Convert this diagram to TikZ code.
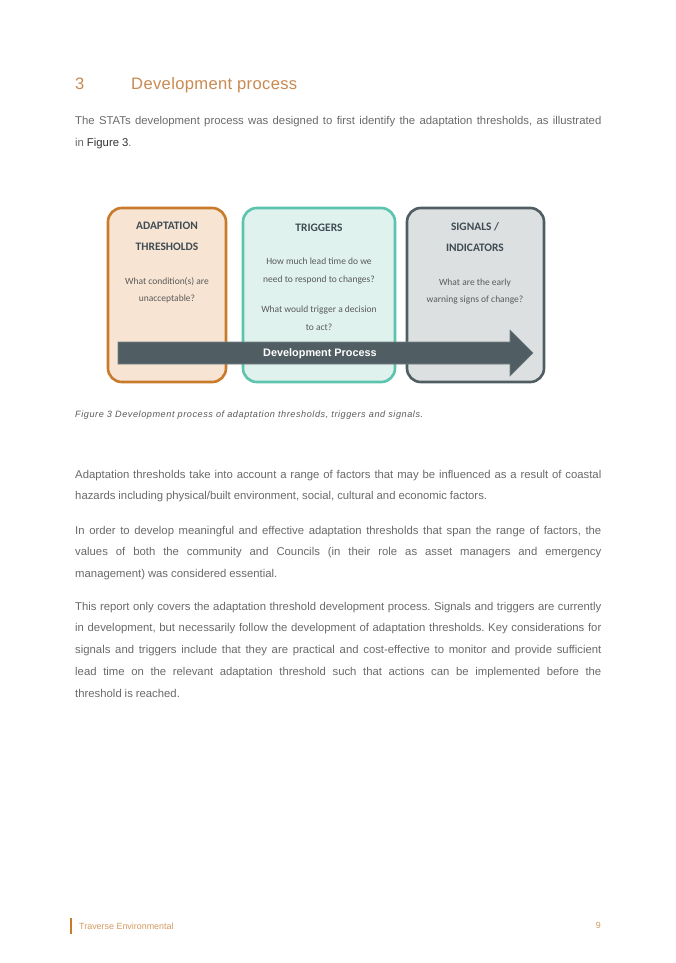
\documentclass[tikz,border=0pt]{standalone}
\usepackage{fontspec}
\setmainfont{Liberation Sans}
\newfontfamily\boxfont{Carlito}
\definecolor{headorange}{HTML}{C98A52}
\definecolor{bodygray}{HTML}{6A6A6A}
\definecolor{darktext}{HTML}{333333}
\definecolor{capgray}{HTML}{5A5A5A}
\definecolor{footorange}{HTML}{D49A62}
\definecolor{orangeline}{HTML}{C97B2C}
\definecolor{orangefill}{HTML}{F7E4D3}
\definecolor{tealline}{HTML}{5CC4AE}
\definecolor{tealfill}{HTML}{DFF2ED}
\definecolor{slateline}{HTML}{505E64}
\definecolor{slatefill}{HTML}{DDE0E1}
\definecolor{arrowfill}{HTML}{505E64}
\definecolor{boxtitle}{HTML}{3F4C53}
\definecolor{boxbody}{HTML}{5A5A5A}
\newcommand\parasetup{\hyphenpenalty=10000\frenchspacing\fontsize{9.9}{19.2}\selectfont
  \spaceskip=0.26em plus 0.6em minus 0.1em\relax}
\tikzset{
  panel/.style={line width=2.3pt, rounded corners=12pt},
  ttl/.style={anchor=base, inner sep=0pt, text=boxtitle, font=\boxfont\bfseries\fontsize{10}{12}\selectfont},
  bdy/.style={anchor=base, inner sep=0pt, text=boxbody, font=\boxfont\fontsize{8.3}{10}\selectfont},
  para/.style={anchor=base west, inner sep=0pt, text=bodygray},
}
\begin{document}
\begin{tikzpicture}[x=0.8743pt,y=-0.8743pt]
\useasboundingbox[fill=white] (0,0) rectangle (675,963);

% heading
\node[anchor=base west, inner sep=0pt, text=headorange, font=\fontsize{14.5}{17}\selectfont\addfontfeatures{LetterSpace=2}] (hnum) at (75,90) {3};
\node[anchor=base west, inner sep=0pt, text=headorange, font=\fontsize{14.5}{17}\selectfont\addfontfeatures{LetterSpace=2}] (htitle) at (131,90) {Development process};

% paragraph 1
\node[para] (p1) at (75,125) {\parbox[t]{460pt}{\parasetup
The STATs development process was designed to first identify the adaptation thresholds, as illustrated\linebreak in {\color{darktext}Figure 3}.}};

% figure panels
\draw[panel, draw=orangeline, fill=orangefill] (108,208) rectangle (226,382);
\draw[panel, draw=tealline, fill=tealfill] (243,208) rectangle (395,382);
\draw[panel, draw=slateline, fill=slatefill] (407,208) rectangle (544,382);

% panel texts
\node[ttl] (a1) at (167,230) {ADAPTATION};
\node[ttl] (a2) at (167,251) {THRESHOLDS};
\node[bdy] (a3) at (167,284) {What condition(s) are};
\node[bdy] (a4) at (167,301) {unacceptable?};

\node[ttl] (t1) at (319,232) {TRIGGERS};
\node[bdy] (t2) at (319,265) {How much lead time do we};
\node[bdy] (t3) at (319,282) {need to respond to changes?};
\node[bdy] (t4) at (319,312) {What would trigger a decision};
\node[bdy] (t5) at (319,330) {to act?};

\node[ttl] (s1) at (475,231) {SIGNALS /};
\node[ttl] (s2) at (475,252) {INDICATORS};
\node[bdy] (s3) at (475,285) {What are the early};
\node[bdy] (s4) at (475,302) {warning signs of change?};

% arrow
\draw[fill=arrowfill, draw=arrowfill!80!white, line width=0.5pt]
  (118,342) -- (510,342) -- (510,330) -- (533,353) -- (510,376) -- (510,364) -- (118,364) -- cycle;
\node[anchor=center, inner sep=0pt, text=white, font=\bfseries\fontsize{9.5}{11}\selectfont] (arrlabel) at (320,354) {Development Process};

% caption
\node[anchor=base west, inner sep=0pt, text=capgray, font=\fontsize{8}{9}\selectfont\itshape\addfontfeatures{LetterSpace=6}] (cap) at (75,417)
  {Figure 3 Development process of adaptation thresholds, triggers and signals.};

% paragraph 2
\node[para] (p2) at (75,478) {\parbox[t]{460pt}{\parasetup
Adaptation thresholds take into account a range of factors that may be influenced as a result of coastal\linebreak hazards including physical/built environment, social, cultural and economic factors.}};

% paragraph 3
\node[para] (p3) at (75,534) {\parbox[t]{460pt}{\parasetup
In order to develop meaningful and effective adaptation thresholds that span the range of factors, the\linebreak values of both the community and Councils (in their role as asset managers and emergency\linebreak management) was considered essential.}};

% paragraph 4
\node[para] (p4) at (75,610) {\parbox[t]{460pt}{\parasetup
This report only covers the adaptation threshold development process. Signals and triggers are currently\linebreak in development, but necessarily follow the development of adaptation thresholds. Key considerations for\linebreak signals and triggers include that they are practical and cost-effective to monitor and provide sufficient\linebreak lead time on the relevant adaptation threshold such that actions can be implemented before the\linebreak threshold is reached.}};

% footer
\fill[orangeline] (69.5,918) rectangle (71.8,934);
\node[anchor=base west, inner sep=0pt, text=footorange, font=\fontsize{7.8}{9}\selectfont] (foot) at (79,929) {Traverse Environmental};
\node[anchor=base east, inner sep=0pt, text=footorange, font=\fontsize{7.8}{9}\selectfont] (pg) at (601,928) {9};
\end{tikzpicture}
\end{document}
